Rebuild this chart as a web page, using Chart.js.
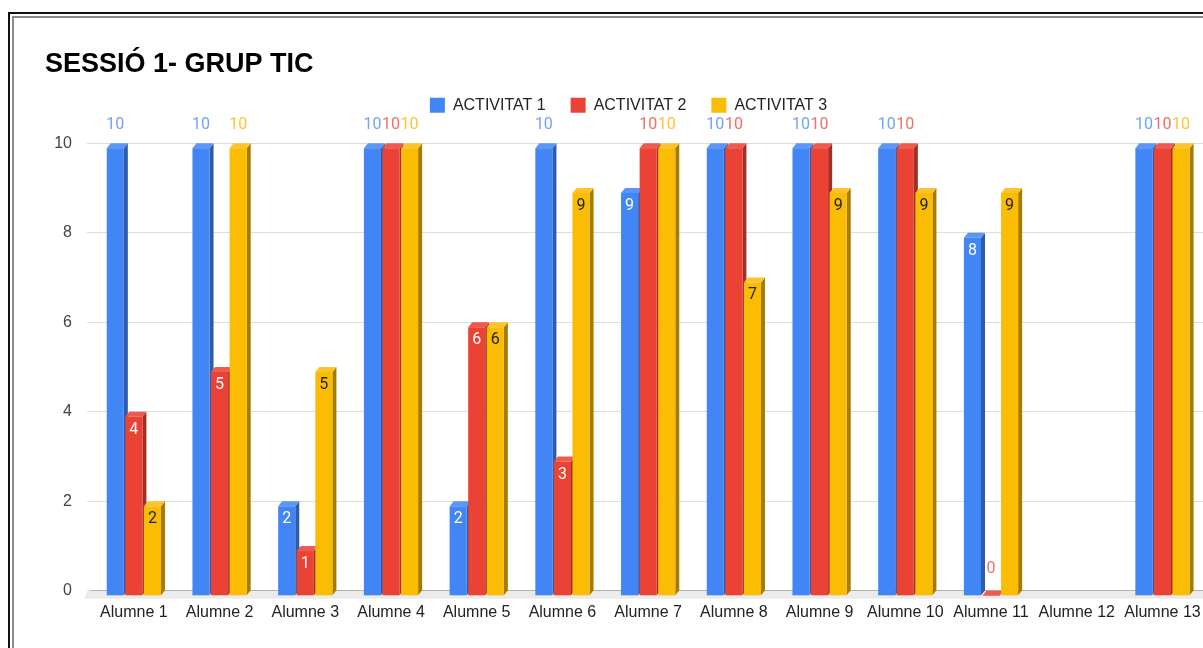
<!DOCTYPE html>
<html lang="ca">
<head>
<meta charset="UTF-8">
<title>Sessió 1 - Grup TIC</title>
<script src="https://cdn.jsdelivr.net/npm/chart.js"></script>
<style>
    html, body { margin: 0; padding: 0; background: #fff; overflow: hidden; }
    #wrap { position: absolute; left: 0; top: 0; width: 1213px; height: 648px; }
    /* double frame around the chart */
    .frame { position: absolute; pointer-events: none; }
    #frameOuter { left: 8px; top: 12px; width: 1300px; height: 700px; border-left: 2px solid #111; border-top: 2px solid #111; }
    #frameInner { left: 12px; top: 16px; width: 1300px; height: 700px; border-left: 2px solid #8a8a8a; border-top: 2px solid #8a8a8a; }
</style>
</head>
<body>
<div id="wrap"><canvas id="chart" width="1213" height="648"></canvas></div>
<div class="frame" id="frameOuter"></div>
<div class="frame" id="frameInner"></div>

<script>
    const categories = ['Alumne 1', 'Alumne 2', 'Alumne 3', 'Alumne 4', 'Alumne 5', 'Alumne 6', 'Alumne 7',
                        'Alumne 8', 'Alumne 9', 'Alumne 10', 'Alumne 11', 'Alumne 12', 'Alumne 13'];
    const seriesNames = ['ACTIVITAT 1', 'ACTIVITAT 2', 'ACTIVITAT 3'];
    const activitat1 = [10, 10, 2, 10, 2, 10, 9, 10, 10, 10, 8, null, 10];
    const activitat2 = [4, 5, 1, 10, 6, 3, 10, 10, 10, 10, 0, null, 10];
    const activitat3 = [2, 10, 5, 10, 6, 9, 10, 7, 9, 9, 9, null, 10];
    const yTicks = [0, 2, 4, 6, 8, 10];

    const front = ['#4285f4', '#ea4335', '#fbbc04'];
    const side = ['#2d5cad', '#a32e26', '#a67c00'];
    const topFace = ['#5b95f6', '#ee5a4f', '#fcc42c'];
    const outsideLabel = ['#74a2f5', '#ef7067', '#fbc535'];
    const insideLabel = ['#ffffff', '#ffffff', '#222222'];

    const DX = 4, DY = 5;   // depth of the 3D bars
    const AXIS_FONT = 'Arial, "Liberation Sans", sans-serif';

    // draws every bar as a box: side, top and front faces
    const bars3d = {
        id: 'bars3d',
        beforeDatasetsDraw(chart) {
            const ctx = chart.ctx;
            const area = chart.chartArea;
            const zero = chart.scales.y.getPixelForValue(0);
            ctx.save();
            ctx.fillStyle = '#ebebeb';
            ctx.beginPath();
            ctx.moveTo(area.left - 3, zero);
            ctx.lineTo(area.right + 10, zero);
            ctx.lineTo(area.right + 10, zero + 8);
            ctx.lineTo(area.left - 7, zero + 8);
            ctx.closePath();
            ctx.fill();

            chart.data.datasets.forEach((ds, i) => {
                const meta = chart.getDatasetMeta(i);
                meta.data.forEach((bar, j) => {
                    if (ds.data[j] === null) return;
                    const p = bar.getProps(['x', 'y', 'base', 'width'], true);
                    const l = p.x - p.width / 2, r = p.x + p.width / 2;
                    const t = p.y + DY, b = p.base + DY;
                    ctx.fillStyle = side[i];
                    ctx.beginPath();
                    ctx.moveTo(r, t); ctx.lineTo(r + DX, t - DY);
                    ctx.lineTo(r + DX, b - DY); ctx.lineTo(r, b);
                    ctx.closePath(); ctx.fill();
                    ctx.fillStyle = topFace[i];
                    ctx.beginPath();
                    ctx.moveTo(l, t); ctx.lineTo(l + DX, t - DY);
                    ctx.lineTo(r + DX, t - DY); ctx.lineTo(r, t);
                    ctx.closePath(); ctx.fill();
                    ctx.fillStyle = front[i];
                    ctx.fillRect(l, t, p.width, b - t);
                });
            });
            ctx.restore();
            return false;
        },
        afterDraw(chart) {
            const ctx = chart.ctx;
            const area = chart.chartArea;
            const max = chart.scales.y.max;
            ctx.save();
            ctx.font = '16px Roboto, Arial, sans-serif';
            ctx.textAlign = 'center';
            ctx.textBaseline = 'middle';
            chart.data.datasets.forEach((ds, i) => {
                chart.getDatasetMeta(i).data.forEach((bar, j) => {
                    const v = ds.data[j];
                    if (v === null) return;
                    const p = bar.getProps(['x', 'y', 'base'], true);
                    let y;
                    if (v === max) {
                        ctx.fillStyle = outsideLabel[i];
                        y = area.top - 18;
                    } else if (v === 0) {
                        ctx.fillStyle = outsideLabel[i];
                        y = p.y - 22;
                    } else {
                        ctx.fillStyle = insideLabel[i];
                        y = p.y + 18;
                    }
                    ctx.fillText(String(v), p.x, y);
                });
            });
            ctx.restore();
        }
    };

    const values = [activitat1, activitat2, activitat3];

    new Chart(document.getElementById('chart'), {
        type: 'bar',
        data: {
            labels: categories,
            datasets: seriesNames.map((name, i) => ({
                label: name,
                data: values[i],
                backgroundColor: front[i],
                borderWidth: 0,
                categoryPercentage: 0.65,
                barPercentage: 0.92
            }))
        },
        options: {
            responsive: false,
            animation: false,
            layout: { padding: { left: 45, right: 1, top: 46, bottom: 14 } },
            plugins: {
                title: {
                    display: true,
                    text: 'SESSIÓ 1- GRUP TIC',
                    align: 'start',
                    color: '#000',
                    font: { family: AXIS_FONT, size: 27, weight: 'bold', lineHeight: 0.6 },
                    padding: { top: 10, bottom: 0 }
                },
                legend: {
                    display: true,
                    position: 'top',
                    labels: {
                        color: '#222',
                        font: { family: AXIS_FONT, size: 16 },
                        boxWidth: 15,
                        boxHeight: 15,
                        padding: 25
                    }
                },
                tooltip: { enabled: false }
            },
            scales: {
                xTop: {
                    type: 'category',
                    position: 'top',
                    labels: categories,
                    grid: { display: false },
                    border: { display: false },
                    ticks: { display: false },
                    afterFit(scale) { scale.height = 20; }
                },
                x: {
                    grid: { display: false, drawTicks: false },
                    border: { display: true, color: '#9e9e9e' },
                    ticks: { color: '#222', font: { family: AXIS_FONT, size: 16 }, padding: 12, maxRotation: 0, autoSkip: false }
                },
                y: {
                    min: 0,
                    max: 10,
                    afterBuildTicks(scale) { scale.ticks = yTicks.map(v => ({ value: v })); },
                    afterFit(scale) { scale.width = 46; },
                    grid: { color: '#dedede', tickLength: 4 },
                    border: { display: false },
                    ticks: { color: '#444', font: { family: AXIS_FONT, size: 16 }, padding: 15 }
                }
            }
        },
        plugins: [bars3d]
    });
</script>
</body>
</html>
